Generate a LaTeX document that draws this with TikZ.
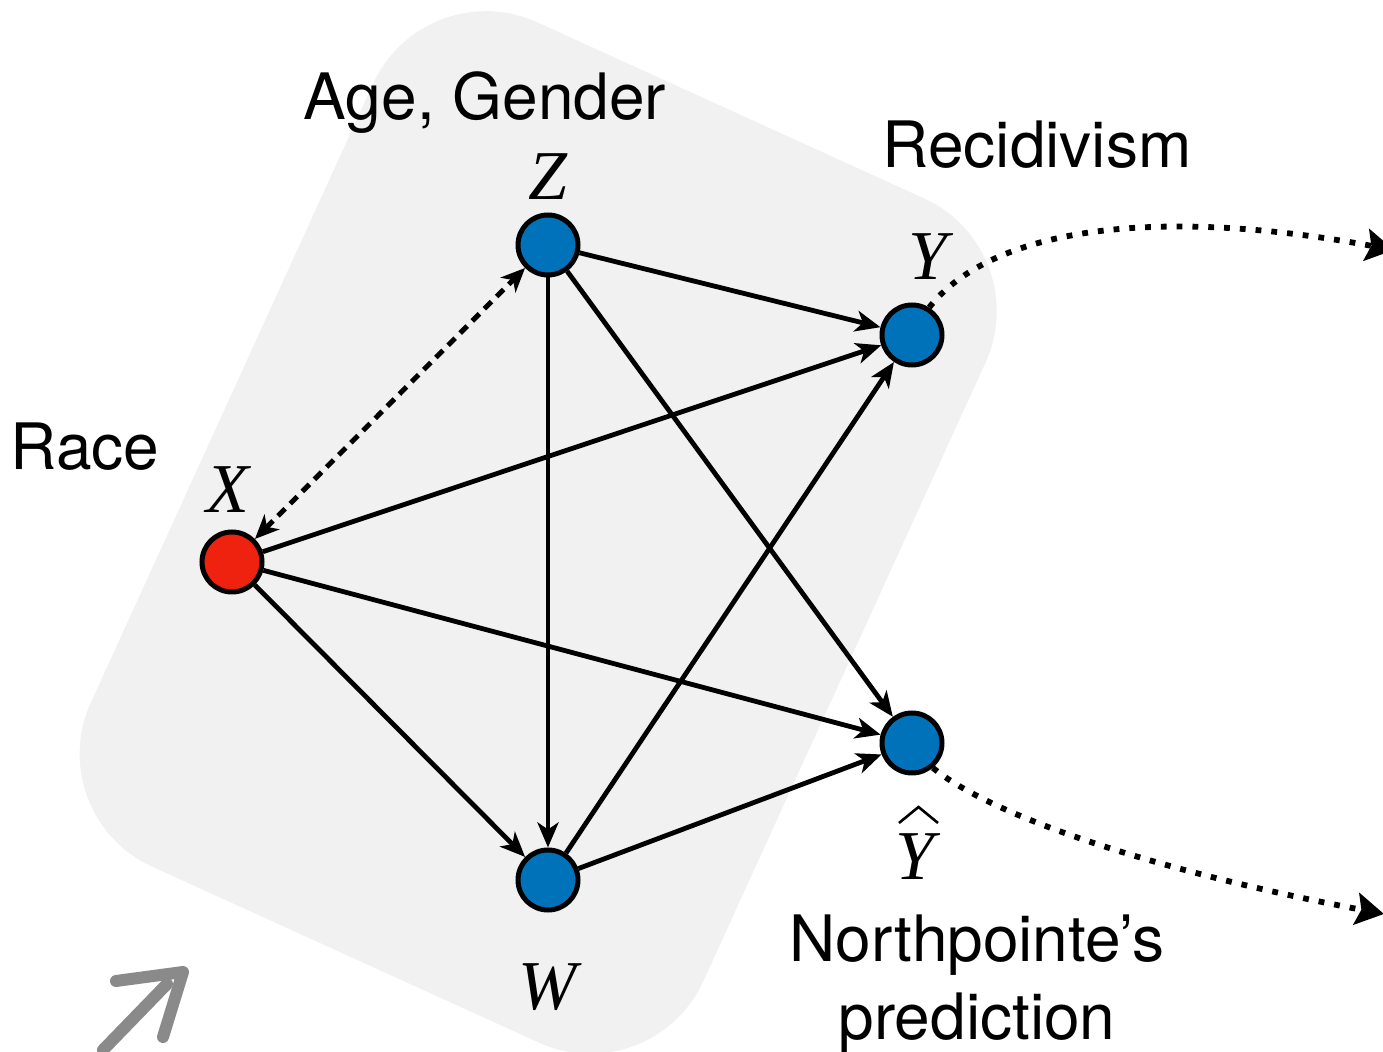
\documentclass[tikz,border=0pt]{standalone}
\usepackage{fontspec}
\usetikzlibrary{arrows.meta}
\newfontfamily\labelfont{TeX Gyre Heros}
\newfontfamily\varfont{Liberation Serif}
\definecolor{nodeblue}{RGB}{0,114,186}
\definecolor{nodered}{RGB}{238,34,14}
\definecolor{panel}{RGB}{241,241,241}
\definecolor{chalk}{RGB}{138,138,138}

\begin{document}
\begin{tikzpicture}[x=0.5pt,y=-0.5pt,
  var/.style={circle,draw=black,line width=2.5pt,minimum size=30pt,inner sep=0pt},
  caption/.style={font=\labelfont\fontsize{32}{38}\selectfont,anchor=base,inner sep=0pt},
  sym/.style={font=\varfont\itshape\fontsize{35}{40}\selectfont,anchor=base,inner sep=0pt},
  edge/.style={line width=2.4pt,-{Stealth[length=12.5pt,width=10.5pt,inset=3.5pt]}},
  confound/.style={line width=2.5pt,dash pattern=on 5pt off 3.6pt,
    {Stealth[length=12pt,width=10.5pt,inset=3.5pt]}-{Stealth[length=12pt,width=10.5pt,inset=3.5pt]}},
  outflow/.style={line width=2.9pt,dash pattern=on 2.9pt off 5pt,
    -{Stealth[length=14pt,width=16pt,inset=2.5pt]}},
  hatstroke/.style={draw=black,line width=1.3pt,line join=miter},
  chalkstroke/.style={draw=chalk,line width=6pt,line cap=round,line join=round}
]
\useasboundingbox (0,0) rectangle (1383,1052);
\clip (0,0) rectangle (1383,1052);

% tilted background panel
\fill[panel,rounded corners=62pt] (424.5,-29) -- (1037,249.8) -- (651.9,1094) -- (39.4,815.4) -- cycle;

% variables
\node[var,fill=nodeblue] (Z) at (548,245) {};
\node[var,fill=nodeblue] (Y) at (912,335) {};
\node[var,fill=nodered]  (X) at (232,562) {};
\node[var,fill=nodeblue] (Yh) at (912,743) {};
\node[var,fill=nodeblue] (W) at (548,880) {};

% variable symbols
\node[sym] (Zs) at (548,200) {Z};
\node[sym] (Ys) at (928,280) {Y};
\node[sym] (Xs) at (228,513) {X};
\node[sym] (Yhs) at (915,880) {Y};
\draw[hatstroke] (899,823) -- (918.5,807) -- (938,823);
\node[sym] (Ws) at (548,1010) {W};

% captions
\node[caption] (age) at (485,120) {Age, Gender};
\node[caption] (rec) at (1037,168) {Recidivism};
\node[caption] (race) at (85,470) {Race};
\node[caption] (np1) at (977,962) {Northpointe’s};
\node[caption] (np2) at (977,1040) {prediction};

% causal edges
\draw[edge] (Z) -- (Y);
\draw[edge] (Z) -- (W);
\draw[edge] (Z) -- (Yh);
\draw[edge] (X) -- (Y);
\draw[edge] (X) -- (Yh);
\draw[edge] (X) -- (W);
\draw[edge] (W) -- (Y);
\draw[edge] (W) -- (Yh);
\draw[confound] (X) -- (Z);

% outgoing dotted links (the upper one runs past the right edge)
\coordinate (outY) at (1394,250);
\coordinate (outYh) at (1384,914);
\draw[outflow] (Y.58) .. controls (990,230) and (1150,205) .. (outY);
\draw[outflow] (Yh.-50) .. controls (990,815) and (1150,870) .. (outYh);

% hand-drawn corner arrow
\draw[chalkstroke] (103,1050) -- (167,984);
\draw[chalkstroke] (116,981) -- (183,972) -- (163,1037);
\end{tikzpicture}
\end{document}
